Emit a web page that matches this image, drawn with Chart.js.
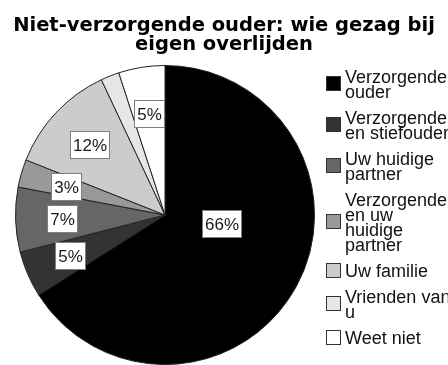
<!DOCTYPE html>
<html>
<head>
<meta charset="utf-8">
<script src="https://cdn.jsdelivr.net/npm/chart.js@4/dist/chart.umd.min.js"></script>
<style>
  html, body { margin: 0; padding: 0; background: #fff; }
</style>
</head>
<body>
<canvas id="gezag" width="448" height="365"></canvas>
<script>
const titleLines = ['Niet-verzorgende ouder: wie gezag bij', 'eigen overlijden'];
const categories = [
  ['Verzorgende', 'ouder'],
  ['Verzorgende', 'en stiefouder'],
  ['Uw huidige', 'partner'],
  ['Verzorgende', 'en uw', 'huidige', 'partner'],
  ['Uw familie'],
  ['Vrienden van', 'u'],
  ['Weet niet']
];
const percentages = [66, 5, 7, 3, 12, 2, 5];
const sliceColors = ['#000000', '#333333', '#666666', '#999999', '#cccccc', '#e6e6e6', '#ffffff'];

const FONT = "'Liberation Sans', Arial, sans-serif";
const TITLE_FONT = "'DejaVu Sans', 'Liberation Sans', sans-serif";

// white boxes with the percentage, placed inside each slice
const sliceLabels = {
  id: 'sliceLabels',
  afterDatasetsDraw(chart, args, opts) {
    const ctx = chart.ctx;
    const values = chart.data.datasets[0].data;
    ctx.save();
    ctx.font = opts.size + 'px ' + FONT;
    ctx.textAlign = 'center';
    ctx.textBaseline = 'middle';
    chart.getDatasetMeta(0).data.forEach((arc, i) => {
      const v = values[i];
      if (v < opts.minValue) return;
      const p = arc.getProps(['x', 'y', 'startAngle', 'endAngle', 'outerRadius'], true);
      let angle = (p.startAngle + p.endAngle) / 2;
      let dist = p.outerRadius * opts.offset;
      if (p.endAngle - p.startAngle > Math.PI) {
        // more than half the pie: label sits just right of the centre
        angle = opts.bigAngle;
        dist = p.outerRadius * opts.bigOffset;
      }
      const cx = p.x + Math.cos(angle) * dist;
      const cy = p.y + Math.sin(angle) * dist;
      const text = v + '%';
      const w = Math.round(ctx.measureText(text).width + opts.padX * 2);
      const h = opts.size + opts.padY * 2;
      const bx = Math.round(cx - w / 2) + 0.5;
      const by = Math.round(cy - h / 2) + 0.5;
      ctx.fillStyle = '#ffffff';
      ctx.fillRect(bx, by, w, h);
      ctx.strokeStyle = '#7f7f7f';
      ctx.lineWidth = 1;
      ctx.strokeRect(bx, by, w, h);
      ctx.fillStyle = '#1a1a1a';
      ctx.fillText(text, bx + w / 2, by + h / 2 + 1);
    });
    ctx.restore();
  }
};

// legend column on the right, multi-line entries with the swatch centred on the text
function drawLegend(chart, box) {
  const opts = chart.options.plugins.sideLegend;
  const ctx = chart.ctx;
  const colors = chart.data.datasets[0].backgroundColor;
  ctx.save();
  ctx.font = opts.size + 'px ' + FONT;
  ctx.textAlign = 'left';
  ctx.textBaseline = 'alphabetic';
  let base = box.top + opts.top;
  chart.data.labels.forEach((lines, i) => {
    const first = base;
    lines.forEach((line, k) => {
      ctx.fillStyle = opts.color;
      ctx.fillText(line, box.left + opts.textX, base);
      if (k < lines.length - 1) base += opts.lineHeight;
    });
    const mid = Math.round((first - opts.capHeight + base) / 2) - 1;
    const sx = box.left + opts.swatchX + 0.5;
    const sy = mid - Math.round(opts.swatch / 2) + 0.5;
    ctx.fillStyle = colors[i];
    ctx.fillRect(sx, sy, opts.swatch, opts.swatch);
    ctx.strokeStyle = '#333333';
    ctx.lineWidth = 1;
    ctx.strokeRect(sx, sy, opts.swatch, opts.swatch);
    base += opts.lineHeight + opts.itemGap;
  });
  ctx.restore();
}

const sideLegend = {
  id: 'sideLegend',
  beforeInit(chart) {
    const box = {
      position: 'right',
      weight: 10,
      fullSize: false,
      options: {},
      isHorizontal() { return false; },
      update(maxWidth, maxHeight) {
        this.width = chart.options.plugins.sideLegend.width;
        this.height = maxHeight;
      },
      draw() { drawLegend(chart, this); }
    };
    Chart.layouts.addBox(chart, box);
  }
};

new Chart(document.getElementById('gezag'), {
  type: 'pie',
  data: {
    labels: categories,
    datasets: [{
      data: percentages,
      backgroundColor: sliceColors,
      borderColor: '#222222',
      borderWidth: 1,
      hoverBorderWidth: 1
    }]
  },
  options: {
    responsive: false,
    animation: false,
    devicePixelRatio: 1,
    layout: { padding: 0 },
    events: [],
    plugins: {
      legend: { display: false },
      tooltip: { enabled: false },
      title: {
        display: true,
        text: titleLines,
        color: '#000000',
        font: { family: TITLE_FONT, size: 19.5, weight: 'bold', lineHeight: '19px' },
        padding: { top: 16.75, bottom: 10.25 }
      },
      sliceLabels: {
        size: 17, padX: 2.5, padY: 5, minValue: 2.5,
        offset: 0.69, bigAngle: 0.14, bigOffset: 0.385
      },
      sideLegend: {
        width: 118, top: 18, size: 18, lineHeight: 15, itemGap: 11, capHeight: 13,
        swatch: 14, swatchX: -4, textX: 15, color: '#111111'
      }
    }
  },
  plugins: [sliceLabels, sideLegend]
});
</script>
</body>
</html>
